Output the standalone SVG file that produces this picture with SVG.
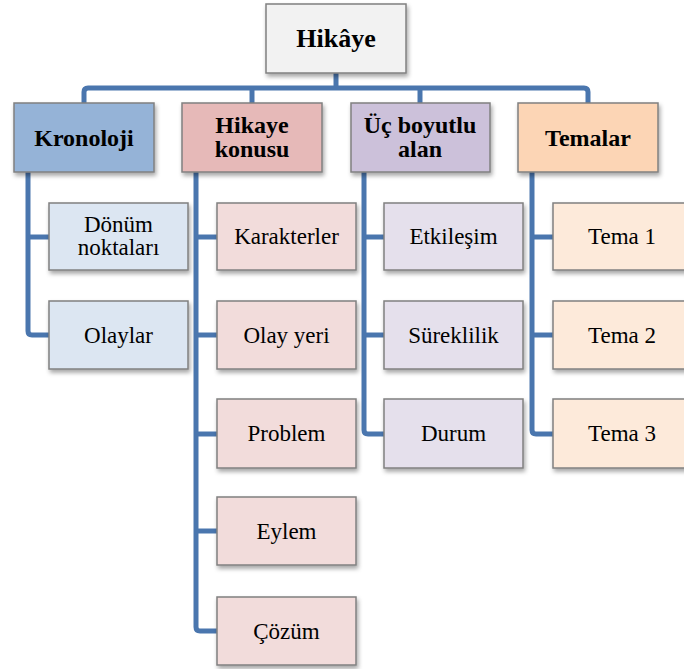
<svg xmlns="http://www.w3.org/2000/svg" width="684" height="669" viewBox="0 0 684 669">
<defs>
<filter id="sh" x="-10%" y="-10%" width="130%" height="140%">
<feDropShadow dx="1.5" dy="3" stdDeviation="2" flood-color="#000" flood-opacity="0.35"/>
</filter>
<style>
.box{stroke:#808080;stroke-width:1.5;filter:url(#sh)}
.root{fill:#f2f2f2}
.b1{fill:#95b3d7}.b2{fill:#e6b9b8}.b3{fill:#ccc1da}.b4{fill:#fcd5b5}
.c1{fill:#dce6f2}.c2{fill:#f2dcdb}.c3{fill:#e5e0ec}.c4{fill:#fdeada}
text{font-family:"Liberation Serif","Times New Roman",serif;fill:#000;text-anchor:middle}
.h{font-weight:bold;font-size:24px}
.r{font-weight:bold;font-size:26px}
.t{font-size:23px}
.ln{fill:none;stroke:#4A76AE;stroke-width:5;stroke-linejoin:round;stroke-linecap:butt}
</style>
</defs>
<g id="connectors">
<path class="ln" d="M336 73 V88"/>
<path class="ln" d="M84 104 V92 Q84 88 88 88 H584 Q588 88 588 92 V104"/>
<path class="ln" d="M252 88 V104"/>
<path class="ln" d="M420 88 V104"/>
<path class="ln" d="M28 172 V331 Q28 335 32 335 H50"/>
<path class="ln" d="M28 237 H50"/>
<path class="ln" d="M196 172 V627 Q196 631 200 631 H218"/>
<path class="ln" d="M196 237 H218"/>
<path class="ln" d="M196 335 H218"/>
<path class="ln" d="M196 434 H218"/>
<path class="ln" d="M196 531 H218"/>
<path class="ln" d="M364 172 V430 Q364 434 368 434 H385"/>
<path class="ln" d="M364 237 H385"/>
<path class="ln" d="M364 335 H385"/>
<path class="ln" d="M532 172 V430 Q532 434 536 434 H554"/>
<path class="ln" d="M532 237 H554"/>
<path class="ln" d="M532 335 H554"/>
</g>
<g id="root"><rect class="box root" x="266" y="4" width="140" height="69"/><text class="r" x="336" y="47">Hikâye</text></g>
<g id="kronoloji"><rect class="box b1" x="14" y="103" width="140" height="69"/><text class="h" x="84" y="146">Kronoloji</text></g>
<g id="hikaye-konusu"><rect class="box b2" x="182" y="103" width="140" height="69"/><text class="h" x="252" y="133">Hikaye</text><text class="h" x="252" y="157">konusu</text></g>
<g id="uc-boyutlu-alan"><rect class="box b3" x="351" y="103" width="139" height="69"/><text class="h" x="420" y="133">Üç boyutlu</text><text class="h" x="420" y="157">alan</text></g>
<g id="temalar"><rect class="box b4" x="518" y="103" width="140" height="69"/><text class="h" x="588" y="146">Temalar</text></g>
<g id="donum-noktalari"><rect class="box c1" x="49" y="203" width="139" height="67"/><text class="t" x="118.5" y="232">Dönüm</text><text class="t" x="118.5" y="255">noktaları</text></g>
<g id="olaylar"><rect class="box c1" x="49" y="301" width="139" height="68"/><text class="t" x="118.5" y="343">Olaylar</text></g>
<g id="karakterler"><rect class="box c2" x="217" y="203" width="139" height="67"/><text class="t" x="286.5" y="244">Karakterler</text></g>
<g id="olay-yeri"><rect class="box c2" x="217" y="301" width="139" height="68"/><text class="t" x="286.5" y="343">Olay yeri</text></g>
<g id="problem"><rect class="box c2" x="217" y="399" width="139" height="69"/><text class="t" x="286.5" y="441">Problem</text></g>
<g id="eylem"><rect class="box c2" x="217" y="497" width="139" height="68"/><text class="t" x="286.5" y="539">Eylem</text></g>
<g id="cozum"><rect class="box c2" x="217" y="597" width="139" height="68"/><text class="t" x="286.5" y="639">Çözüm</text></g>
<g id="etkilesim"><rect class="box c3" x="384" y="203" width="139" height="67"/><text class="t" x="453.5" y="244">Etkileşim</text></g>
<g id="sureklilik"><rect class="box c3" x="384" y="301" width="139" height="68"/><text class="t" x="453.5" y="343">Süreklilik</text></g>
<g id="durum"><rect class="box c3" x="384" y="399" width="139" height="69"/><text class="t" x="453.5" y="441">Durum</text></g>
<g id="tema-1"><rect class="box c4" x="553" y="203" width="140" height="67"/><text class="t" x="622" y="244">Tema 1</text></g>
<g id="tema-2"><rect class="box c4" x="553" y="301" width="140" height="68"/><text class="t" x="622" y="343">Tema 2</text></g>
<g id="tema-3"><rect class="box c4" x="553" y="399" width="140" height="69"/><text class="t" x="622" y="441">Tema 3</text></g>
</svg>
